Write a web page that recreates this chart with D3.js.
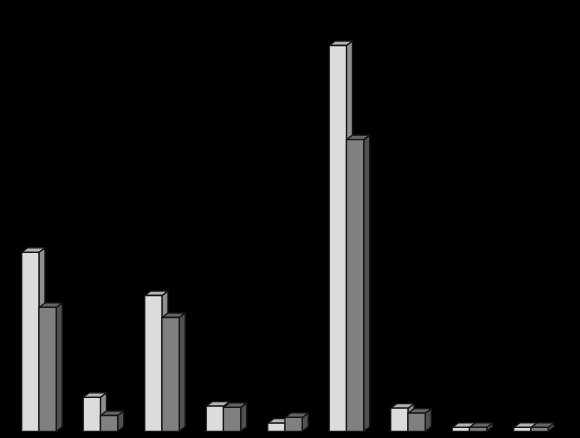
<!DOCTYPE html>
<html>
<head>
<meta charset="utf-8">
<script src="https://cdn.jsdelivr.net/npm/d3@7"></script>
<style>
  html, body { margin: 0; padding: 0; background: #000; }
  svg { display: block; }
</style>
</head>
<body>
<script>
// no labels in the picture, so the categories are just numbered
const categories = ['1', '2', '3', '4', '5', '6', '7', '8', '9']
const series = ['a', 'b']
const valuesA = [46.4, 8.8, 35.2, 6.5, 2.1, 100, 6.0, 1.0, 1.0]
const valuesB = [32.1, 4.1, 29.5, 6.2, 3.6, 75.6, 4.7, 1.0, 1.0]
const frontColors = ['#dcdcdc', '#808080']
const topColors = ['#b4b4b4', '#646464']
const sideColors = ['#8f8f8f', '#505050']

const width = 580
const height = 438
const depthX = 6
const depthY = 4.5

const svg = d3.select('body')
    .append('svg')
    .attr('width', width)
    .attr('height', height)

const x = d3.scaleBand()
    .domain(categories)
    .range([21.7, 548.2])
    .paddingInner(0.439)
    .paddingOuter(0)

const xInner = d3.scaleBand()
    .domain(series)
    .range([0, x.bandwidth()])

const y = d3.scaleLinear()
    .domain([0, 100])
    .range([431.3, 45.5])

const bars = []
categories.forEach((c, i) => {
    bars.push({ category: c, s: 0, value: valuesA[i] })
    bars.push({ category: c, s: 1, value: valuesB[i] })
})

const bar = svg.selectAll('g.bar')
    .data(bars)
    .enter()
    .append('g')
    .attr('class', 'bar')
    .attr('stroke', '#141414')
    .attr('stroke-width', 1.3)
    .attr('stroke-linejoin', 'round')

// side face
bar.append('path')
    .attr('fill', d => sideColors[d.s])
    .attr('d', d => {
        const r = x(d.category) + xInner(series[d.s]) + xInner.bandwidth()
        return `M${r},${y(d.value)}l${depthX},${-depthY}L${r + depthX},${y(0) - depthY}L${r},${y(0)}Z`
    })

// top face
bar.append('path')
    .attr('fill', d => topColors[d.s])
    .attr('d', d => {
        const l = x(d.category) + xInner(series[d.s])
        return `M${l},${y(d.value)}l${depthX},${-depthY}h${xInner.bandwidth()}l${-depthX},${depthY}Z`
    })

// front face
bar.append('rect')
    .attr('fill', d => frontColors[d.s])
    .attr('x', d => x(d.category) + xInner(series[d.s]))
    .attr('y', d => y(d.value))
    .attr('width', xInner.bandwidth())
    .attr('height', d => y(0) - y(d.value))
</script>
</body>
</html>
